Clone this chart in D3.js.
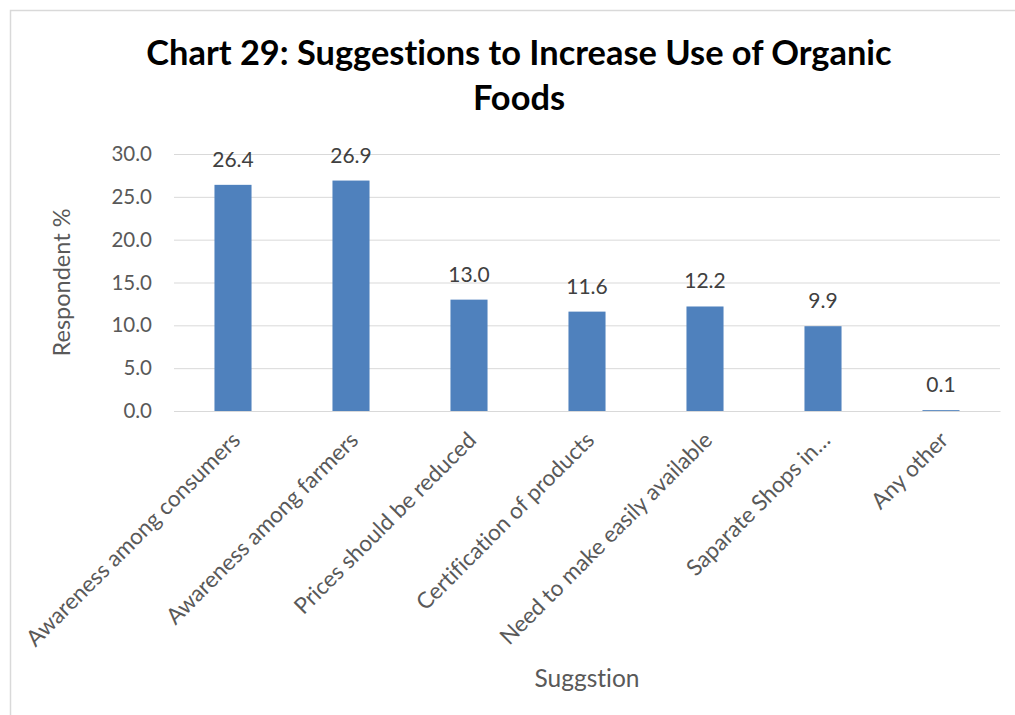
<!DOCTYPE html>
<html>
<head>
<meta charset="utf-8">
<script src="https://cdn.jsdelivr.net/npm/d3@7/dist/d3.min.js"></script>
<style>
  html, body { margin: 0; padding: 0; background: #fff; }
  svg { display: block; }
  text { font-family: Lato, "Open Sans", sans-serif; font-variant-ligatures: none; }
</style>
</head>
<body>
<svg id="chart" width="1015" height="715"></svg>
<script>
// Survey results: suggestions to increase use of organic foods
const categories = [
  "Awareness among consumers",
  "Awareness among farmers",
  "Prices should be reduced",
  "Certification of products",
  "Need to make easily available",
  "Saparate Shops in\u2026",
  "Any other"
];
const values = [26.4, 26.9, 13.0, 11.6, 12.2, 9.9, 0.1];
const yTicks = [0, 5, 10, 15, 20, 25, 30];
const titleLines = ["Chart 29: Suggestions to Increase Use of Organic", "Foods"];
const yTitle = "Respondent %";
const xTitle = "Suggstion";

const svg = d3.select("#chart");
const W = 1015, H = 715;
const plot = { left: 174, right: 1000, top: 154, bottom: 411 };

// outer chart frame
svg.append("path")
  .attr("d", `M10.5,${H} L10.5,10.5 L${W},10.5`)
  .attr("fill", "none")
  .attr("stroke", "#d9d9d9")
  .attr("stroke-width", 1.5);

const x = d3.scaleBand()
  .domain(categories)
  .range([plot.left, plot.right])
  .paddingInner(0.686)
  .paddingOuter(0.343);

const y = d3.scaleLinear()
  .domain([0, 30])
  .range([plot.bottom, plot.top]);

// title
svg.append("text")
  .attr("x", 519)
  .attr("y", 65)
  .attr("text-anchor", "middle")
  .attr("font-weight", "bold")
  .attr("font-size", 34.4)
  .attr("fill", "#000")
  .selectAll("tspan")
  .data(titleLines)
  .join("tspan")
  .attr("x", 519)
  .attr("dy", (d, i) => i === 0 ? 0 : 45)
  .text(d => d);

// gridlines + y tick labels
const yAxis = d3.axisLeft(y)
  .tickValues(yTicks)
  .tickFormat(d3.format(".1f"))
  .tickSize(-(plot.right - plot.left))
  .tickPadding(22);

const gy = svg.append("g")
  .attr("transform", `translate(${plot.left},0)`)
  .call(yAxis);
gy.select(".domain").remove();
gy.selectAll(".tick line").attr("stroke", "#d9d9d9").attr("stroke-width", 1);
gy.selectAll(".tick text")
  .attr("fill", "#595959")
  .attr("font-size", 20.5);

// bars
svg.append("g")
  .selectAll("rect")
  .data(values)
  .join("rect")
  .attr("x", (d, i) => x(categories[i]))
  .attr("width", x.bandwidth())
  .attr("y", d => y(d))
  .attr("height", d => y(0) - y(d))
  .attr("fill", "#4f81bd");

// value labels
svg.append("g")
  .selectAll("text")
  .data(values)
  .join("text")
  .attr("x", (d, i) => x(categories[i]) + x.bandwidth() / 2)
  .attr("y", d => y(d) - 18)
  .attr("text-anchor", "middle")
  .attr("font-size", 21)
  .attr("fill", "#404040")
  .text(d => d.toFixed(1));

// category axis
const xAxis = d3.axisBottom(x).tickSize(0).tickPadding(0);
const gx = svg.append("g")
  .attr("transform", `translate(0,${plot.bottom})`)
  .call(xAxis);
gx.select(".domain").attr("stroke", "#d9d9d9");
gx.selectAll(".tick text")
  .attr("fill", "#595959")
  .attr("font-size", 22.5)
  .attr("text-anchor", "end")
  .attr("transform", "translate(3,25) rotate(-45)")
  .attr("dy", "0.35em");

// axis titles
svg.append("text")
  .attr("transform", `translate(70,${(plot.top + plot.bottom) / 2}) rotate(-90)`)
  .attr("text-anchor", "middle")
  .attr("font-size", 23.5)
  .attr("fill", "#595959")
  .text(yTitle);

svg.append("text")
  .attr("x", (plot.left + plot.right) / 2)
  .attr("y", 687)
  .attr("text-anchor", "middle")
  .attr("font-size", 24.5)
  .attr("fill", "#595959")
  .text(xTitle);
</script>
</body>
</html>
